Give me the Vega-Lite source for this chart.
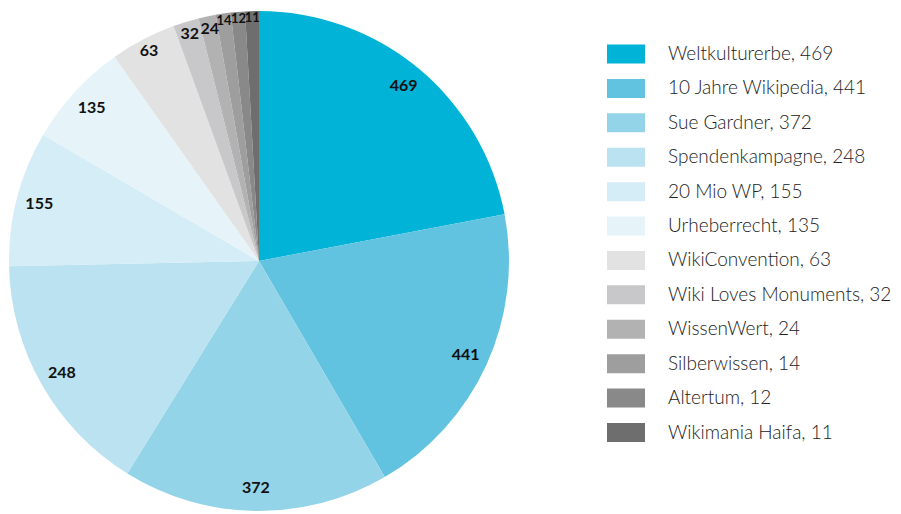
{
  "$schema": "https://vega.github.io/schema/vega-lite/v6.json",
  "padding": 0,
  "spacing": 0,
  "background": "white",
  "config": {"view": {"stroke": null}, "font": "Lato"},
  "datasets": {
    "slices": [
      {"rank": 1, "name": "Weltkulturerbe", "value": 469, "angle": 79.2},
      {"rank": 2, "name": "10 Jahre Wikipedia", "value": 441, "angle": 70.6},
      {"rank": 3, "name": "Sue Gardner", "value": 372, "angle": 62.0},
      {"rank": 4, "name": "Spendenkampagne", "value": 248, "angle": 57.0},
      {"rank": 5, "name": "20 Mio WP", "value": 155, "angle": 31.5},
      {"rank": 6, "name": "Urheberrecht", "value": 135, "angle": 24.4},
      {"rank": 7, "name": "WikiConvention", "value": 63, "angle": 15.3},
      {"rank": 8, "name": "Wiki Loves Monuments", "value": 32, "angle": 6.0},
      {"rank": 9, "name": "WissenWert", "value": 24, "angle": 4.0},
      {"rank": 10, "name": "Silberwissen", "value": 14, "angle": 3.5},
      {"rank": 11, "name": "Altertum", "value": 12, "angle": 3.3},
      {"rank": 12, "name": "Wikimania Haifa", "value": 11, "angle": 3.2}
    ]
  },
  "hconcat": [
    {
      "width": 518,
      "height": 522,
      "data": {"name": "slices"},
      "encoding": {
        "theta": {"field": "angle", "type": "quantitative", "stack": true},
        "order": {"field": "rank", "type": "quantitative"}
      },
      "layer": [
        {
          "mark": {"type": "arc", "outerRadius": 250, "stroke": null},
          "encoding": {
            "color": {
              "field": "name",
              "type": "nominal",
              "legend": null,
              "scale": {
                "domain": ["Weltkulturerbe", "10 Jahre Wikipedia", "Sue Gardner", "Spendenkampagne", "20 Mio WP", "Urheberrecht", "WikiConvention", "Wiki Loves Monuments", "WissenWert", "Silberwissen", "Altertum", "Wikimania Haifa"],
                "range": ["#00b3d7", "#61c3e0", "#94d4e8", "#bae2f0", "#d4edf6", "#e6f4f9", "#e2e2e2", "#c8c8ca", "#b2b2b2", "#9e9e9e", "#898989", "#6e6e6e"]
              }
            }
          }
        },
        {
          "mark": {"type": "text", "radius": {"expr": "datum.value < 20 ? 243 : datum.value < 100 ? 237 : 227"}, "fontSize": {"expr": "datum.value < 20 ? 13 : 16"}, "fontWeight": "bold", "color": "#111111", "align": "center", "baseline": "middle"},
          "encoding": {"text": {"field": "value", "type": "quantitative"}}
        }
      ]
    },
    {
      "width": 216,
      "height": 486,
      "data": {"name": "slices"},
      "transform": [{"calculate": "datum.name + ', ' + datum.value", "as": "label"}],
      "encoding": {
        "y": {"field": "name", "type": "ordinal", "sort": {"field": "rank"}, "axis": null, "scale": {"type": "point", "padding": 0, "range": [54, 432.5]}}
      },
      "layer": [
        {
          "mark": {"type": "point", "shape": "M-1,-0.5H1V0.5H-1Z", "size": 1444, "filled": true, "opacity": 1, "strokeWidth": 0},
          "encoding": {
            "color": {
              "field": "name",
              "type": "nominal",
              "legend": null,
              "scale": {
                "domain": ["Weltkulturerbe", "10 Jahre Wikipedia", "Sue Gardner", "Spendenkampagne", "20 Mio WP", "Urheberrecht", "WikiConvention", "Wiki Loves Monuments", "WissenWert", "Silberwissen", "Altertum", "Wikimania Haifa"],
                "range": ["#00b3d7", "#61c3e0", "#94d4e8", "#bae2f0", "#d4edf6", "#e6f4f9", "#e2e2e2", "#c8c8ca", "#b2b2b2", "#9e9e9e", "#898989", "#6e6e6e"]
              }
            }
          }
        },
        {
          "mark": {"type": "text", "align": "left", "baseline": "middle", "dx": 42, "fontSize": 19, "fontWeight": 300, "color": "#222222"},
          "encoding": {"text": {"field": "label", "type": "nominal"}}
        }
      ]
    }
  ]
}
